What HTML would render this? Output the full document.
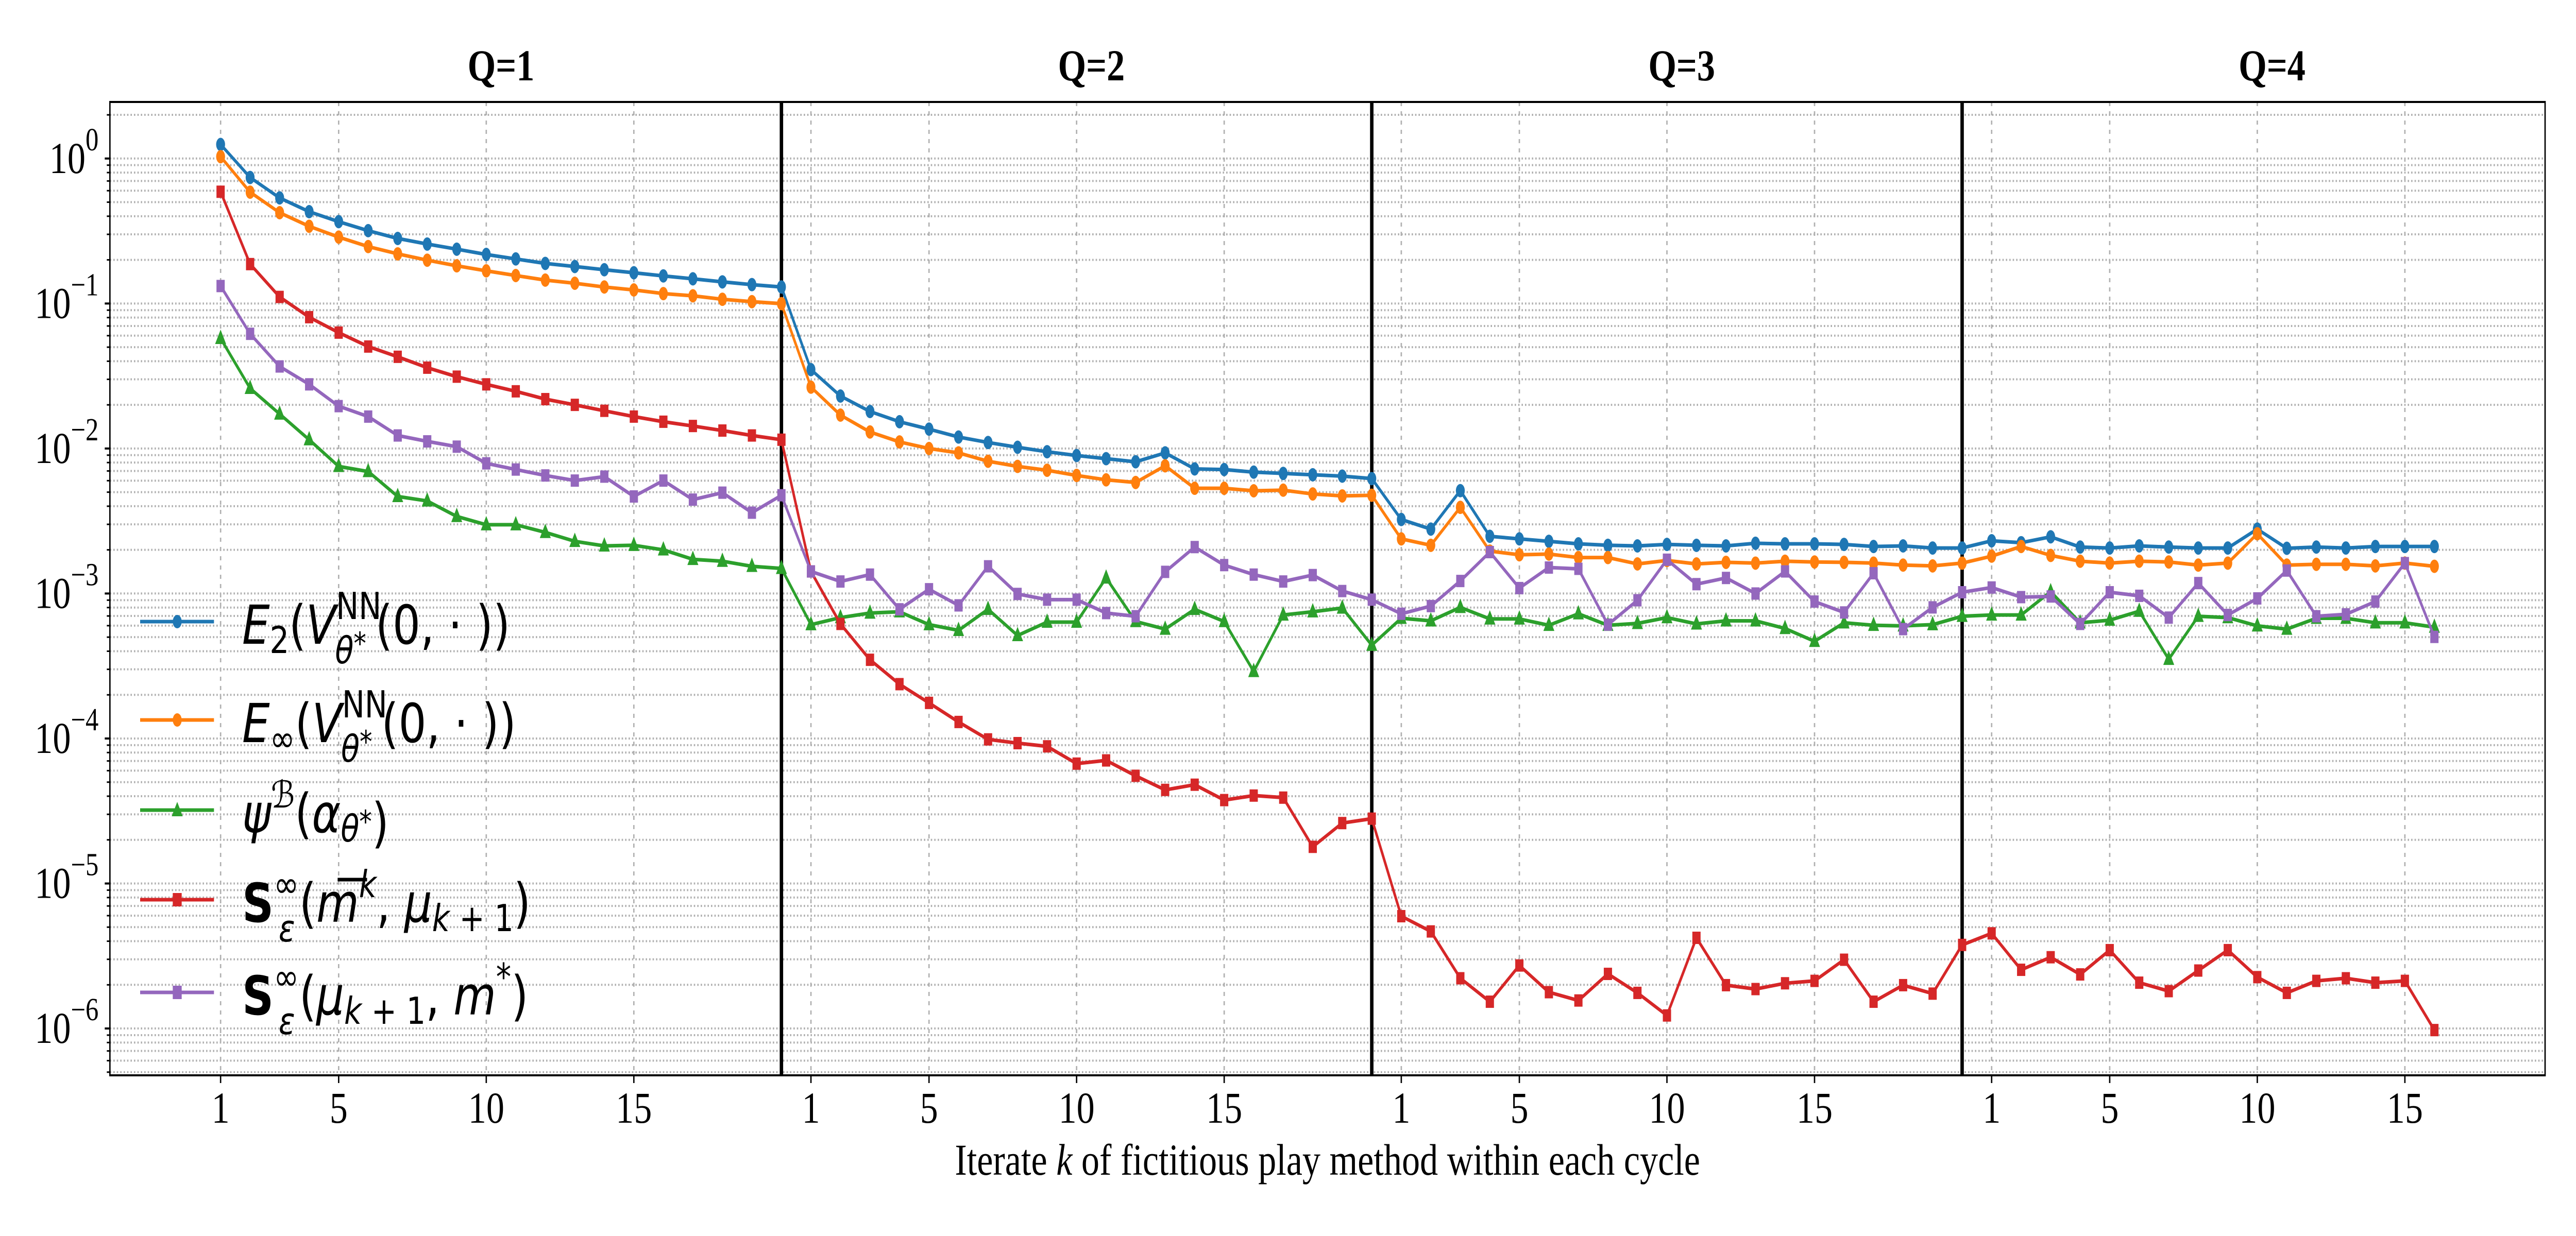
<!DOCTYPE html>
<html><head><meta charset="utf-8"><style>
html,body{margin:0;padding:0;background:#fff;overflow:hidden;width:100%;height:100%;}
svg{display:block;width:100vw;height:100vh;}
.tk{font-family:"Liberation Serif",serif;font-size:86px;fill:#000;}
.lg{font-family:"DejaVu Sans","Liberation Sans",sans-serif;font-size:104px;fill:#000;}
</style></head><body>
<svg id="chart" xmlns="http://www.w3.org/2000/svg" viewBox="0 0 7500 2400" preserveAspectRatio="none">
<rect x="0" y="0" width="7500" height="2400" fill="#fff"/>
<g id="grid"></g>
<g id="axes"></g>
<g id="series"></g>
<g id="legend">
  <g>
    <line x1="408" y1="1207" x2="623" y2="1207" stroke="#1f77b4" stroke-width="7"/>
    <circle cx="516" cy="1207" r="13" fill="#1f77b4"/>
    <text class="lg" x="705" y="1250"><tspan font-style="italic">E</tspan><tspan font-size="72" dy="18">2</tspan><tspan dy="-18">(</tspan><tspan font-style="italic">V</tspan><tspan font-size="72" dy="-48">NN</tspan><tspan font-size="72" font-style="italic" dx="-110" dy="86">θ</tspan><tspan font-size="60" dy="-18">*</tspan><tspan dx="22" dy="-20">(0, · ))</tspan></text>
  </g>
  <g>
    <line x1="408" y1="1398" x2="623" y2="1398" stroke="#ff7f0e" stroke-width="7"/>
    <circle cx="516" cy="1398" r="13" fill="#ff7f0e"/>
    <text class="lg" x="705" y="1441"><tspan font-style="italic">E</tspan><tspan font-size="72" dy="18">∞</tspan><tspan dy="-18">(</tspan><tspan font-style="italic">V</tspan><tspan font-size="72" dy="-48">NN</tspan><tspan font-size="72" font-style="italic" dx="-110" dy="86">θ</tspan><tspan font-size="60" dy="-18">*</tspan><tspan dx="22" dy="-20">(0, · ))</tspan></text>
  </g>
  <g>
    <line x1="408" y1="1573" x2="623" y2="1573" stroke="#2ca02c" stroke-width="7"/>
    <polygon points="516,1557 532,1585 500,1585" fill="#2ca02c"/>
    <text class="lg" x="705" y="1616"><tspan font-style="italic">ψ</tspan><tspan font-size="72" font-style="italic" dy="-48">ℬ</tspan><tspan dy="48">(</tspan><tspan font-style="italic">α</tspan><tspan font-size="72" font-style="italic" dy="18">θ</tspan><tspan font-size="60" dy="-18">*</tspan><tspan dy="18">)</tspan></text>
  </g>
  <g>
    <line x1="408" y1="1747" x2="623" y2="1747" stroke="#d62728" stroke-width="7"/>
    <rect x="503" y="1734" width="26" height="26" fill="#d62728"/>
    <g id="mbarGroup">
      <text class="lg" x="705" y="1790"><tspan font-weight="bold">S</tspan><tspan font-size="72" dy="-48">∞</tspan><tspan font-size="72" font-style="italic" dx="-48" dy="86">ε</tspan><tspan dx="10" dy="-38">(</tspan><tspan font-style="italic">m</tspan><tspan font-size="72" font-style="italic" dy="-48">k</tspan><tspan dy="48">, </tspan><tspan font-style="italic">μ</tspan><tspan font-size="72" font-style="italic" dy="18">k</tspan><tspan font-size="72" dy="0"> + 1</tspan><tspan dy="-18">)</tspan></text>
      <line x1="932" y1="1708" x2="1002" y2="1708" stroke="#000" stroke-width="7"/>
    </g>
  </g>
  <g>
    <line x1="408" y1="1927" x2="623" y2="1927" stroke="#9467bd" stroke-width="7"/>
    <rect x="503" y="1914" width="26" height="26" fill="#9467bd"/>
    <text class="lg" x="705" y="1970"><tspan font-weight="bold">S</tspan><tspan font-size="72" dy="-48">∞</tspan><tspan font-size="72" font-style="italic" dx="-48" dy="86">ε</tspan><tspan dx="10" dy="-38">(</tspan><tspan font-style="italic">μ</tspan><tspan font-size="72" font-style="italic" dy="18">k</tspan><tspan font-size="72"> + 1</tspan><tspan dy="-18">, </tspan><tspan font-style="italic">m</tspan><tspan font-size="72" dy="-48">*</tspan><tspan dy="48">)</tspan></text>
  </g>
</g>
</svg>
<script>
// ---- data ----
const cycleSizes = [20, 20, 20, 16];
const cycleTitles = ["Q=1", "Q=2", "Q=3", "Q=4"];
const kTicks = [1, 5, 10, 15];
const yTickExps = [0, -1, -2, -3, -4, -5, -6];
const seriesNames = ["e2", "einf", "psi", "s-mbar", "s-mstar"];
const e2Vals = [1.25,0.74,0.535,0.43,0.367,0.318,0.281,0.257,0.237,0.218,0.203,0.189,0.180,0.171,0.163,0.155,0.148,0.141,0.135,0.130,
0.035,0.023,0.018,0.0153,0.0136,0.0120,0.011,0.0102,0.0095,0.00895,0.00851,0.0081,0.00933,0.00723,0.00716,0.00687,0.00673,0.00659,0.00645,0.0062,
0.00324,0.00278,0.00512,0.00248,0.00238,0.00229,0.0022,0.00215,0.00213,0.00218,0.00215,0.00213,0.00222,0.0022,0.0022,0.00218,0.00211,0.00213,0.00206,0.00206,
0.00231,0.00224,0.00246,0.00209,0.00206,0.00213,0.00209,0.00206,0.00206,0.00278,0.00205,0.00209,0.00206,0.00211,0.00211,0.00211];
const einfVals = [1.03,0.586,0.423,0.341,0.287,0.247,0.220,0.199,0.182,0.168,0.156,0.145,0.138,0.130,0.124,0.117,0.113,0.107,0.103,0.0998,
0.0265,0.017,0.013,0.0111,0.01,0.00933,0.00817,0.00753,0.00708,0.00652,0.00608,0.00583,0.0076,0.00532,0.00532,0.00511,0.00516,0.00486,0.00471,0.00476,
0.00238,0.00215,0.00393,0.00196,0.00185,0.00187,0.00177,0.00177,0.0016,0.00169,0.0016,0.00164,0.00162,0.00167,0.00165,0.00164,0.00162,0.00157,0.00155,0.00162,
0.00181,0.00211,0.00183,0.00167,0.00162,0.00167,0.00165,0.00157,0.00162,0.00258,0.00157,0.00159,0.00159,0.00155,0.00162,0.00154];
const psiVals = [0.0575,0.026,0.0173,0.0115,0.00753,0.00694,0.00467,0.00435,0.0034,0.00298,0.00298,0.00264,0.00229,0.00213,0.00215,0.002,0.00172,0.00167,0.00154,0.00149,
0.00061,0.000682,0.000733,0.000748,0.00061,0.000557,0.000778,0.000513,0.000635,0.000635,0.00128,0.000641,0.000568,0.000778,0.000641,0.00029,0.000711,0.000748,0.000794,0.00044,
0.000675,0.000648,0.000802,0.000668,0.000668,0.000604,0.000725,0.000604,0.000622,0.000682,0.000617,0.000648,0.000648,0.000574,0.000468,0.000628,0.000604,0.000598,0.00061,0.000697,
0.000711,0.000711,0.00103,0.000628,0.000655,0.000755,0.000352,0.000697,0.000682,0.000598,0.000568,0.000675,0.000675,0.000628,0.000628,0.000586];
const sMbarVals = [0.59,0.187,0.111,0.0805,0.063,0.0505,0.0429,0.0361,0.0313,0.0277,0.0248,0.0219,0.02,0.0182,0.0166,0.0153,0.0143,0.0133,0.0123,0.0115,
0.00142,0.000617,0.000349,0.000237,0.000176,0.00013,9.86e-5,9.29e-5,8.83e-5,6.71e-5,7.06e-5,5.53e-5,4.42e-5,4.8e-5,3.76e-5,4.04e-5,3.91e-5,1.79e-5,2.61e-5,2.8e-5,
5.95e-6,4.67e-6,2.22e-6,1.53e-6,2.72e-6,1.78e-6,1.56e-6,2.38e-6,1.76e-6,1.23e-6,4.22e-6,1.99e-6,1.87e-6,2.05e-6,2.13e-6,2.98e-6,1.53e-6,1.99e-6,1.74e-6,3.77e-6,
4.53e-6,2.54e-6,3.1e-6,2.36e-6,3.47e-6,2.07e-6,1.81e-6,2.51e-6,3.47e-6,2.26e-6,1.76e-6,2.13e-6,2.22e-6,2.07e-6,2.13e-6,9.75e-7];
const sMstarVals = [0.132,0.0618,0.0368,0.0277,0.0196,0.0166,0.0123,0.0112,0.0103,0.0079,0.00716,0.00652,0.00601,0.0064,0.00467,0.00601,0.00444,0.00496,0.00361,0.00476,
0.00142,0.00121,0.00135,0.000778,0.00107,0.000828,0.00154,0.000993,0.000907,0.000907,0.000733,0.000697,0.00141,0.00209,0.00157,0.00135,0.00121,0.00134,0.00104,0.000907,
0.000725,0.000819,0.00122,0.00193,0.00109,0.00151,0.00148,0.00061,0.000898,0.00171,0.00116,0.00128,0.001,0.00142,0.00088,0.00074,0.00138,0.000568,0.000802,0.00102,
0.0011,0.000944,0.000954,0.000617,0.00102,0.000964,0.000682,0.00118,0.000711,0.000925,0.00144,0.000697,0.000718,0.00088,0.00162,0.000502];

// ---- layout ----
const NS = "http://www.w3.org/2000/svg";
const L = 320, R = 7410, T = 198, B = 2088;
const total = cycleSizes.reduce((a, b) => a + b, 0);
const xMin = 1 - 0.05 * (total - 1), xMax = total + 0.05 * (total - 1);
const yTop = 0.39, yBot = -6.323;
function xs(g) { return L + (g - xMin) / (xMax - xMin) * (R - L); }
function ys(v) { return T + (yTop - Math.log10(v)) / (yTop - yBot) * (B - T); }
function mk(tag, attrs, parent) {
  const e = document.createElementNS(NS, tag);
  for (const k in attrs) e.setAttribute(k, attrs[k]);
  parent.appendChild(e);
  return e;
}
const grid = document.getElementById('grid');
const axes = document.getElementById('axes');
const ser = document.getElementById('series');

for (let e = -7; e <= 0; e++) {
  for (let m = 1; m <= 9; m++) {
    const v = m * Math.pow(10, e);
    const lv = Math.log10(v);
    if (lv > yTop || lv < yBot) continue;
    const y = ys(v);
    const gl = mk('line', {x1: L, x2: R, y1: y, y2: y, stroke: '#b0b0b0', 'stroke-width': 4, 'stroke-dasharray': '4,6'}, grid);
    
    
    const tl = mk('line', {x1: L - (m === 1 ? 15 : 9), x2: L, y1: y, y2: y, stroke: '#000', 'stroke-width': m === 1 ? 4 : 3}, axes);
    
    
  }
}
yTickExps.forEach(function (e) {
  const y = ys(Math.pow(10, e));
  const t = mk('text', {x: 287, y: y + 28, 'text-anchor': 'end', class: 'tk'}, axes);
  
  
  const b = mk('tspan', {}, t); b.textContent = '10';
  const s = mk('tspan', {dy: -44, 'font-size': 62}, t); s.textContent = (e === 0 ? '0' : '−' + (-e));
});

let offset = 0;
cycleSizes.forEach(function (n, c) {
  kTicks.forEach(function (k) {
    if (k > n) return;
    const x = xs(offset + k);
    const gl = mk('line', {x1: x, x2: x, y1: T, y2: B, stroke: '#b0b0b0', 'stroke-width': 4, 'stroke-dasharray': '8,10'}, grid);
    
    
    const tl = mk('line', {x1: x, x2: x, y1: B, y2: B + 15, stroke: '#000', 'stroke-width': 4}, axes);
    
    
    const t = mk('text', {x: x, y: B + 92, 'text-anchor': 'middle', class: 'tk'}, axes);
    
    
    t.textContent = k;
  });
  const tt = mk('text', {x: xs(offset + 10.5), y: 156, 'text-anchor': 'middle', class: 'tk', 'font-weight': 'bold'}, axes);
  
  
  tt.textContent = cycleTitles[c];
  offset += n;
  if (c < cycleSizes.length - 1) {
    const vx = xs(offset);
    const vl = mk('line', {x1: vx, x2: vx, y1: T, y2: B, stroke: '#000', 'stroke-width': 10}, ser);
    
    
  }
});

const fr = mk('rect', {x: L, y: T, width: R - L, height: B - T, fill: 'none', stroke: '#000', 'stroke-width': 4}, axes);


const xl = mk('text', {x: (L + R) / 2, y: 2281, 'text-anchor': 'middle', class: 'tk'}, axes);


const a1 = mk('tspan', {}, xl); a1.textContent = 'Iterate ';
const a2 = mk('tspan', {'font-style': 'italic'}, xl); a2.textContent = 'k';
const a3 = mk('tspan', {}, xl); a3.textContent = ' of fictitious play method within each cycle';

const seriesData = [e2Vals, einfVals, psiVals, sMbarVals, sMstarVals];
const colors = ['#1f77b4', '#ff7f0e', '#2ca02c', '#d62728', '#9467bd'];
const markers = ['o', 'o', '^', 's', 's'];
seriesData.forEach(function (vals, si) {
  const g = mk('g', {}, ser);
  
  
  const pts = vals.map(function (v, i) { return xs(i + 1).toFixed(1) + ',' + ys(v).toFixed(1); }).join(' ');
  const pl = mk('polyline', {points: pts, fill: 'none', stroke: colors[si], 'stroke-width': 7, 'stroke-linejoin': 'round'}, g);
  
  
  vals.forEach(function (v, i) {
    const x = xs(i + 1), y = ys(v);
    let m;
    if (markers[si] === 'o') m = mk('circle', {cx: x, cy: y, r: 13, fill: colors[si]}, g);
    else if (markers[si] === 's') m = mk('rect', {x: x - 12, y: y - 12, width: 24, height: 24, fill: colors[si]}, g);
    else m = mk('polygon', {points: x + ',' + (y - 17) + ' ' + (x + 16) + ',' + (y + 11) + ' ' + (x - 16) + ',' + (y + 11), fill: colors[si]}, g);
    
    
  });
});

// ---- partially counter the viewport stretch for text ----
(function () {
  const w = window.innerWidth || 7500, h = window.innerHeight || 2400;
  const f0 = (h / 2400) / (w / 7500);
  if (!isFinite(f0) || Math.abs(f0 - 1) < 0.01) return;
  const f = Math.sqrt(f0);
  function tf(x, y) { return 'translate(' + x + ',' + y + ') scale(' + f + ',1) translate(' + (-x) + ',' + (-y) + ')'; }
  const mb = document.getElementById('mbarGroup');
  mb.setAttribute('transform', tf(705, 1790));
  document.querySelectorAll('text').forEach(function (t) {
    if (mb.contains(t)) return;
    const x = parseFloat(t.getAttribute('x')), y = parseFloat(t.getAttribute('y'));
    t.setAttribute('transform', tf(x, y));
  });
})();
</script>
</body></html>
